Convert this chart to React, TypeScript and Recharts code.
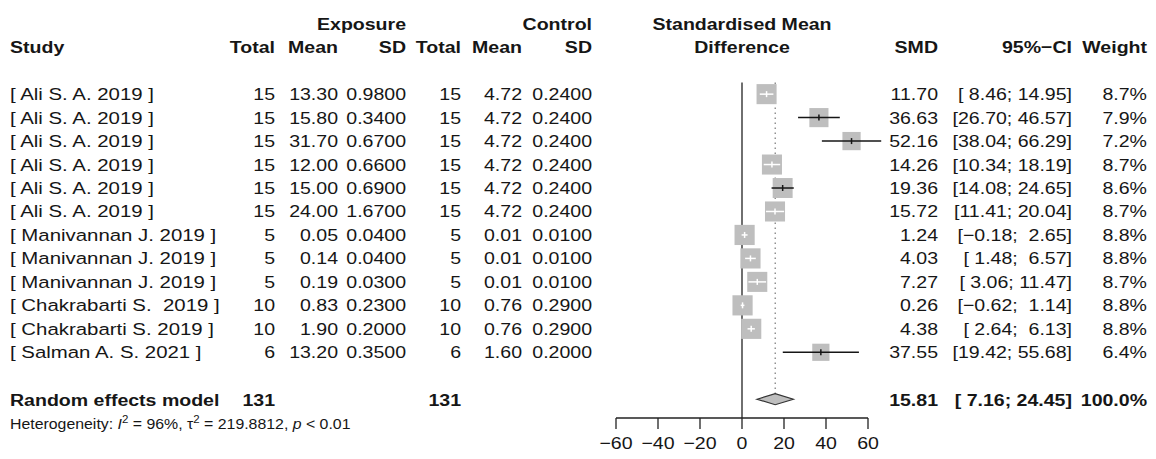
import React from 'react';
import { ComposedChart, XAxis, YAxis, Scatter, ReferenceLine, ReferenceDot } from 'recharts';

// ---- study level data ----
const studies = [
  '[ Ali S. A. 2019 ]',
  '[ Ali S. A. 2019 ]',
  '[ Ali S. A. 2019 ]',
  '[ Ali S. A. 2019 ]',
  '[ Ali S. A. 2019 ]',
  '[ Ali S. A. 2019 ]',
  '[ Manivannan J. 2019 ]',
  '[ Manivannan J. 2019 ]',
  '[ Manivannan J. 2019 ]',
  '[ Chakrabarti S.  2019 ]',
  '[ Chakrabarti S. 2019 ]',
  '[ Salman A. S. 2021 ]',
];
const expTotal = [15, 15, 15, 15, 15, 15, 5, 5, 5, 10, 10, 6];
const expMean = [13.3, 15.8, 31.7, 12.0, 15.0, 24.0, 0.05, 0.14, 0.19, 0.83, 1.9, 13.2];
const expSD = [0.98, 0.34, 0.67, 0.66, 0.69, 1.67, 0.04, 0.04, 0.03, 0.23, 0.2, 0.35];
const ctlTotal = [15, 15, 15, 15, 15, 15, 5, 5, 5, 10, 10, 6];
const ctlMean = [4.72, 4.72, 4.72, 4.72, 4.72, 4.72, 0.01, 0.01, 0.01, 0.76, 0.76, 1.6];
const ctlSD = [0.24, 0.24, 0.24, 0.24, 0.24, 0.24, 0.01, 0.01, 0.01, 0.29, 0.29, 0.2];
const smd = [11.7, 36.63, 52.16, 14.26, 19.36, 15.72, 1.24, 4.03, 7.27, 0.26, 4.38, 37.55];
const ciLower = [8.46, 26.7, 38.04, 10.34, 14.08, 11.41, -0.18, 1.48, 3.06, -0.62, 2.64, 19.42];
const ciUpper = [14.95, 46.57, 66.29, 18.19, 24.65, 20.04, 2.65, 6.57, 11.47, 1.14, 6.13, 55.68];
const weight = [8.7, 7.9, 7.2, 8.7, 8.6, 8.7, 8.8, 8.8, 8.7, 8.8, 8.8, 6.4];

// ---- pooled (random effects) result ----
const pooledLabel = 'Random effects model';
const pooledExpTotal = 131;
const pooledCtlTotal = 131;
const pooledSmd = 15.81;
const pooledLower = 7.16;
const pooledUpper = 24.45;
const pooledWeight = 100.0;
const hetI2 = 96;
const hetTau2 = 219.8812;
const hetP = '< 0.01';

// ---- axis ----
const xTicks = [-60, -40, -20, 0, 20, 40, 60];

// ---- layout / style ----
const FONT = '"Liberation Sans", Arial, Helvetica, sans-serif';
const SX = 1.15;
const FS = 17;
const INK = '#161616';
const BOX = '#bebebe';
const COL = {
  study: 10,
  eTotal: 275,
  eMean: 338,
  eSD: 406,
  cTotal: 461,
  cMean: 522,
  cSD: 592,
  plotMid: 742,
  smd: 938,
  ci: 1072,
  weight: 1147,
};
const BASE = 6; // baseline offset from row centre

const minus = (s: string) => s.replace(/-/g, '\u2212');
const f2 = (v: number) => minus(v.toFixed(2));
const f4 = (v: number) => minus(v.toFixed(4));
const fmtCI = (lo: number, hi: number) =>
  `[${f2(lo).padStart(5, ' ')}; ${f2(hi).padStart(5, ' ')}]`;
const boxSize = (w: number) => 6.8 * Math.sqrt(w);

type TProps = {
  x: number;
  y: number;
  anchor?: 'start' | 'middle' | 'end';
  bold?: boolean;
  size?: number;
  sx?: number;
  children: React.ReactNode;
};

function T({ x, y, anchor = 'start', bold = false, size = FS, sx = SX, children }: TProps) {
  return (
    <text
      transform={`translate(${x},${y}) scale(${sx},1)`}
      textAnchor={anchor}
      fontFamily={FONT}
      fontSize={size}
      fontWeight={bold ? 'bold' : 'normal'}
      fill={INK}
      style={{ whiteSpace: 'pre' }}
    >
      {children}
    </text>
  );
}

const studyRows = studies.map((name, i) => ({ x: smd[i], y: i, i }));
const headerRows = [
  { x: 0, y: -3, line: 0 },
  { x: 0, y: -2, line: 1 },
];
const pooledRow = [{ x: pooledSmd, y: studies.length + 1 }];

// one table row plus the study's weighted square
function StudyRow(props: any) {
  const { cx, cy, payload } = props;
  const i = payload.i;
  const s = boxSize(weight[i]);
  const b = cy + BASE;
  return (
    <g>
      <rect x={cx - s / 2} y={cy - s / 2} width={s} height={s} fill={BOX} />
      <T x={COL.study} y={b} sx={1.2}>{studies[i]}</T>
      <T x={COL.eTotal} y={b} anchor="end">{String(expTotal[i])}</T>
      <T x={COL.eMean} y={b} anchor="end">{f2(expMean[i])}</T>
      <T x={COL.eSD} y={b} anchor="end">{f4(expSD[i])}</T>
      <T x={COL.cTotal} y={b} anchor="end">{String(ctlTotal[i])}</T>
      <T x={COL.cMean} y={b} anchor="end">{f2(ctlMean[i])}</T>
      <T x={COL.cSD} y={b} anchor="end">{f4(ctlSD[i])}</T>
      <T x={COL.smd} y={b} anchor="end">{f2(smd[i])}</T>
      <T x={COL.ci} y={b} anchor="end">{fmtCI(ciLower[i], ciUpper[i])}</T>
      <T x={COL.weight} y={b} anchor="end">{`${weight[i].toFixed(1)}%`}</T>
    </g>
  );
}

function HeaderRow(props: any) {
  const { cy, payload } = props;
  const b = cy + BASE;
  if (payload.line === 0) {
    return (
      <g>
        <T x={COL.eSD} y={b} anchor="end" bold>Exposure</T>
        <T x={COL.cSD} y={b} anchor="end" bold>Control</T>
        <T x={COL.plotMid} y={b} anchor="middle" bold>Standardised Mean</T>
      </g>
    );
  }
  return (
    <g>
      <T x={COL.study} y={b} bold>Study</T>
      <T x={COL.eTotal} y={b} anchor="end" bold>Total</T>
      <T x={COL.eMean} y={b} anchor="end" bold>Mean</T>
      <T x={COL.eSD} y={b} anchor="end" bold>SD</T>
      <T x={COL.cTotal} y={b} anchor="end" bold>Total</T>
      <T x={COL.cMean} y={b} anchor="end" bold>Mean</T>
      <T x={COL.cSD} y={b} anchor="end" bold>SD</T>
      <T x={COL.plotMid} y={b} anchor="middle" bold>Difference</T>
      <T x={COL.smd} y={b} anchor="end" bold>SMD</T>
      <T x={COL.ci} y={b} anchor="end" bold>{'95%\u2212CI'}</T>
      <T x={COL.weight} y={b} anchor="end" bold>Weight</T>
    </g>
  );
}

function PooledRow(props: any) {
  const { cy } = props;
  const b = cy + BASE + 1;
  return (
    <g>
      <T x={COL.study} y={b} bold>{pooledLabel}</T>
      <T x={COL.eTotal} y={b} anchor="end" bold>{String(pooledExpTotal)}</T>
      <T x={COL.cTotal} y={b} anchor="end" bold>{String(pooledCtlTotal)}</T>
      <T x={COL.smd} y={b} anchor="end" bold>{f2(pooledSmd)}</T>
      <T x={COL.ci} y={b} anchor="end" bold>{fmtCI(pooledLower, pooledUpper)}</T>
      <T x={COL.weight} y={b} anchor="end" bold>{`${pooledWeight.toFixed(1)}%`}</T>
    </g>
  );
}

function Heterogeneity(props: any) {
  const { cy } = props;
  const size = 13.8;
  return (
    <g>
      <text
        transform={`translate(${COL.study},${cy + 6}) scale(${SX},1)`}
        fontFamily={FONT}
        fontSize={size}
        fill={INK}
        style={{ whiteSpace: 'pre' }}
      >
        <tspan>{'Heterogeneity: '}</tspan>
        <tspan fontStyle="italic">I</tspan>
        <tspan fontSize={10} dy={-6}>2</tspan>
        <tspan dy={6}>{` = ${hetI2}%, `}</tspan>
        <tspan>{'\u03c4'}</tspan>
        <tspan fontSize={10} dy={-6}>2</tspan>
        <tspan dy={6}>{` = ${hetTau2.toFixed(4)}, `}</tspan>
        <tspan fontStyle="italic">p</tspan>
        <tspan>{` ${hetP}`}</tspan>
      </text>
    </g>
  );
}

// confidence interval segment; drawn white when it fits inside the square
function makeCiShape(i: number) {
  return (p: any) => {
    const { x1, y1, x2 } = p;
    const ex = x1 + ((smd[i] - ciLower[i]) / (ciUpper[i] - ciLower[i])) * (x2 - x1);
    const half = boxSize(weight[i]) / 2;
    const inside = x1 >= ex - half && x2 <= ex + half;
    const c = inside ? '#ffffff' : INK;
    return (
      <g>
        <line x1={x1} y1={y1} x2={x2} y2={y1} stroke={c} strokeWidth={1.5} />
        <line x1={ex} y1={y1 - 3} x2={ex} y2={y1 + 3} stroke={c} strokeWidth={1.5} />
      </g>
    );
  };
}

function diamondShape(p: any) {
  const { x1, y1, x2 } = p;
  const ex = x1 + ((pooledSmd - pooledLower) / (pooledUpper - pooledLower)) * (x2 - x1);
  const h = 5.5;
  const pts = `${x1},${y1} ${ex},${y1 - h} ${x2},${y1} ${ex},${y1 + h}`;
  return <polygon points={pts} fill={BOX} stroke="#333" strokeWidth={1.2} />;
}

function AxisTick(props: any) {
  const { x, y, payload } = props;
  return (
    <T x={x} y={y + 12} anchor="middle">
      {minus(String(payload.value))}
    </T>
  );
}

export default function App() {
  const pooledY = studies.length + 1;
  return (
    <div style={{ position: 'absolute', left: 0, top: 0, background: '#fff' }}>
      <ComposedChart
        width={1156}
        height={459}
        margin={{ top: 12, right: 288, bottom: 11, left: 616 }}
        style={{ background: '#fff' }}
      >
        <XAxis
          type="number"
          dataKey="x"
          domain={[-60, 60]}
          ticks={xTicks}
          interval={0}
          height={30}
          tickSize={11}
          tickMargin={8}
          stroke="#222"
          tickLine={{ stroke: '#222', strokeWidth: 1.3 }}
          axisLine={{ stroke: '#222', strokeWidth: 1.3 }}
          tick={<AxisTick />}
        />
        <YAxis type="number" dataKey="y" domain={[-3.5, 13.8]} reversed hide width={0} />

        <ReferenceLine
          segment={[{ x: pooledSmd, y: -0.5 }, { x: pooledSmd, y: 12.8 }]}
          stroke="#777"
          strokeWidth={1.2}
          strokeDasharray="1.5 3.5"
          ifOverflow="visible"
          zIndex={100}
        />
        <ReferenceLine
          segment={[{ x: 0, y: -0.5 }, { x: 0, y: 13.8 }]}
          stroke="#333"
          strokeWidth={1.4}
          ifOverflow="visible"
          zIndex={100}
        />

        <Scatter data={headerRows} shape={<HeaderRow />} isAnimationActive={false} />
        <Scatter data={studyRows} shape={<StudyRow />} isAnimationActive={false} />
        <Scatter data={pooledRow} shape={<PooledRow />} isAnimationActive={false} />

        {studies.map((_, i) => (
          <ReferenceLine
            key={`ci-${i}`}
            segment={[{ x: ciLower[i], y: i }, { x: ciUpper[i], y: i }]}
            shape={makeCiShape(i)}
            ifOverflow="visible"
            zIndex={900}
          />
        ))}
        <ReferenceLine
          segment={[{ x: pooledLower, y: pooledY }, { x: pooledUpper, y: pooledY }]}
          shape={diamondShape}
          ifOverflow="visible"
          zIndex={900}
        />
        <ReferenceDot
          x={0}
          y={pooledY + 1}
          ifOverflow="visible"
          shape={<Heterogeneity />}
          zIndex={900}
        />
      </ComposedChart>
    </div>
  );
}
